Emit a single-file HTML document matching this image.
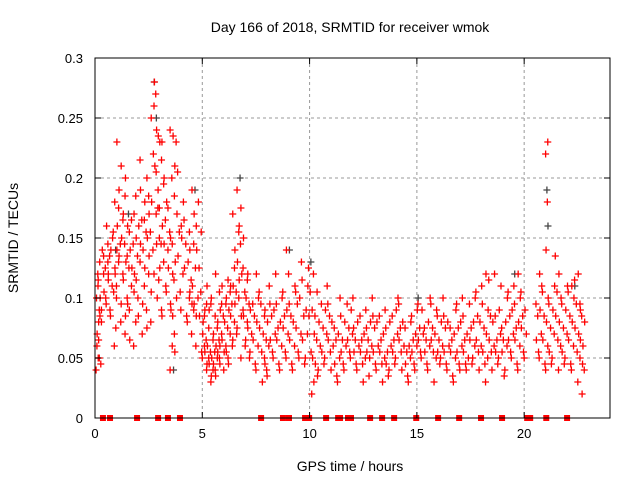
<!DOCTYPE html>
<html><head><meta charset="utf-8"><style>
body{margin:0;background:#fff}
svg{display:block;font-family:"Liberation Sans",sans-serif}
</style></head><body>
<svg id="chart" width="640" height="480">
<text x="350" y="32" text-anchor="middle" font-size="14">Day 166 of 2018, SRMTID for receiver wmok</text>
<text transform="translate(18,238) rotate(-90)" text-anchor="middle" font-size="14">SRMTID / TECUs</text>
<text x="350" y="471" text-anchor="middle" font-size="14">GPS time / hours</text>
<g id="grid"></g><g id="gray"></g><g id="red"></g><g id="sq"></g>
<rect x="95" y="58" width="515" height="360" fill="none" stroke="#000" stroke-width="1"/>
<g id="ticks"></g>
</svg>
<script>
const xTicks=[0,5,10,15,20];
const yTicks=[0,0.05,0.1,0.15,0.2,0.25,0.3];
const yTickLabels=["0","0.05","0.1","0.15","0.2","0.25","0.3"];
const groupTimes=[0.05,0.1,0.2,0.3,0.5,0.7,0.9,1.0,1.2,1.4,1.6,1.8,2.0,2.2,2.4,2.6,2.75,2.9,3.1,3.3,3.5,3.7,4.0,4.3,4.5,4.7,
5.0,5.2,5.4,5.6,5.8,6.0,6.2,6.4,6.6,6.8,7.0,7.2,7.5,7.8,8.0,8.3,8.6,8.9,9.2,9.5,9.8,10.1,10.4,10.7,11.0,11.3,11.6,11.9,12.2,12.5,12.8,13.1,13.4,13.7,14.0,14.3,14.6,14.9,15.2,15.5,15.8,16.1,16.4,16.7,17.0,17.3,17.6,17.9,18.2,18.5,18.8,19.1,19.4,19.7,20.0,20.7,21.0,21.3,21.6,21.9,22.2,22.5,22.7];
const groupValues=[[.04,.05,.06,.08,.10,.12],[.07,.09,.11,.13],[.05,.08,.10],[.09,.12,.14],[.10,.13,.16,.12],[.09,.11,.14,.15],[.06,.10,.12,.14,.18],[.11,.13,.16,.19,.23],[.08,.12,.15,.17,.21],[.07,.10,.13,.16,.20],[.09,.11,.14],[.06,.08,.12,.15,.17],[.10,.13,.16,.19],[.07,.11,.14,.18],[.09,.12,.15,.17,.20],[.08,.14,.18,.22,.25],[.12,.17,.21,.24,.28,.27,.26],[.10,.15,.19,.23],[.09,.13,.16,.20,.23],[.11,.14,.18],[.04,.06,.09,.12,.15,.20,.24],[.07,.10,.13,.17,.21,.23],[.09,.12,.15,.18,.16],[.08,.10,.13,.14],[.07,.09,.11,.17,.19],[.06,.10,.14,.18,.16],
[.05,.06,.08,.09,.07],[.04,.05,.06,.09,.11],[.03,.04,.05,.07,.10],[.04,.05,.06,.08,.12],[.05,.07,.09,.11,.06],[.04,.06,.08,.10],[.05,.07,.09,.11],[.06,.08,.11,.14,.17],[.07,.10,.13,.16,.19],[.05,.09,.12,.15],[.06,.08,.10,.12],[.05,.07,.09],[.04,.06,.08,.10,.12],[.03,.05,.07,.09],[.04,.06,.08,.11],[.05,.07,.09,.12],[.04,.06,.08,.10],[.05,.07,.09,.12,.14],[.04,.06,.08,.11],[.05,.07,.10,.13],[.05,.07,.09,.11],[.02,.03,.05,.07,.09,.12],[.04,.06,.08],[.05,.07,.09,.11],[.04,.06,.08],[.03,.05,.07,.10],[.04,.06,.08],[.05,.07,.09,.10],[.04,.06,.08],[.03,.05,.07,.09],[.05,.06,.08,.10],[.04,.06,.08],[.03,.05,.07,.09],[.04,.06,.08],[.05,.07,.09,.10],[.04,.06,.08],[.03,.05,.06,.08],[.04,.06,.07,.09],[.05,.07,.09],[.04,.06,.08,.10],[.03,.05,.07,.09],[.05,.06,.08,.10],[.04,.06,.08],[.03,.05,.07,.09],[.04,.06,.08,.10],[.04,.05,.07],[.05,.06,.08,.10],[.04,.06,.08,.11],[.03,.05,.07,.09,.12],[.04,.06,.08,.12],[.05,.07,.09,.11],[.04,.06,.08,.10],[.05,.07,.09,.11],[.04,.06,.08,.10,.12],[.05,.07,.09],[.05,.07,.09,.11,.12],[.04,.06,.08,.10,.14,.18,.22,.23],[.05,.07,.09,.11],[.04,.06,.08,.10,.12],[.05,.07,.09,.11],[.04,.06,.08,.10,.11],[.03,.05,.07,.09,.12],[.02,.04,.06,.08]];
const groupTimes2=[0.15,0.4,0.6,0.85,1.1,1.3,1.5,1.7,1.9,2.1,2.3,2.5,2.85,3.0,3.2,3.4,3.6,3.85,4.15,4.4,4.6,4.85,5.1,5.3,5.5,5.7,5.9,6.1,6.3,6.5,6.7,6.9,7.1,7.35,7.65,7.9,8.15,8.45,8.75,9.05,9.35,9.65,9.95,10.25,10.55,10.85,11.15,11.45,11.75,12.05,12.35,12.65,12.95,13.25,13.55,13.85,14.15,14.45,14.75,15.05,15.35,15.65,15.95,16.25,16.55,16.85,17.15,17.45,17.75,18.05,18.35,18.65,18.95,19.25,19.55,19.85,20.55,20.85,21.15,21.45,21.75,22.05,22.35,22.6];
const groupValues2=[[.045,.065,.085,.115],[.095,.105,.125,.135],[.085,.115,.135,.145],[.075,.105,.125,.155],[.095,.135,.145,.175],[.085,.115,.145,.165,.185],[.065,.095,.125,.135,.155],[.105,.125,.145,.165],[.085,.115,.135,.185],[.095,.145,.165,.215],[.075,.125,.155,.165],[.105,.135,.155,.185],[.115,.145,.175,.205,.235],[.085,.125,.145,.175,.215],[.105,.145,.165,.195],[.095,.125,.155,.175],[.055,.085,.115,.145,.185,.235],[.105,.135,.155,.205],[.085,.125,.145,.165],[.095,.105,.115,.155],[.085,.095,.125,.145],[.055,.085,.105,.125,.155],
[.045,.055,.065,.085,.095],[.035,.045,.055,.075,.095],[.035,.045,.055,.065,.085],[.045,.055,.065,.075,.105],[.055,.065,.085,.095],[.045,.055,.075,.095,.115],[.065,.085,.095,.105],[.075,.095,.105,.125],[.085,.115,.145,.155,.175],[.065,.085,.105,.125],[.055,.075,.095,.115],[.045,.065,.085,.095],[.055,.075,.095,.105],[.035,.045,.065,.085],[.055,.065,.085,.095],[.045,.065,.075,.095],[.055,.075,.085,.105],[.045,.065,.085,.095],[.055,.075,.095,.105],[.045,.065,.085,.115],[.055,.085,.105,.125],[.035,.045,.065,.085,.105],[.045,.055,.075,.095],[.055,.065,.085,.095],[.035,.045,.065,.075],[.045,.055,.065,.085],[.055,.065,.075,.095],[.045,.055,.065,.075],[.045,.055,.065,.085],[.035,.055,.065,.075],[.045,.055,.075,.085],[.045,.055,.065,.085],[.035,.045,.055,.075],[.045,.055,.065,.085],[.055,.065,.075,.095],[.035,.045,.055,.075],[.045,.055,.065,.085],[.055,.065,.075,.095],[.045,.055,.065,.075],[.055,.065,.075,.095],[.045,.055,.065,.085],[.045,.055,.075,.085],[.035,.055,.065,.075],[.045,.055,.075,.095],[.045,.055,.065,.085],[.045,.065,.075,.095],[.055,.065,.085,.105],[.045,.055,.075,.095],[.055,.065,.085,.115],[.045,.055,.065,.085],[.035,.055,.065,.075],[.055,.065,.085,.105],[.045,.065,.075,.095],[.055,.075,.085,.105],[.055,.065,.085,.095],[.045,.065,.085,.105],[.045,.055,.075,.095],[.065,.085,.105,.135],[.045,.055,.075,.095],[.045,.065,.085,.105],[.055,.075,.095,.115],[.045,.065,.085,.095]];
const grayTimes=[0.9,1.5,2.7,2.8,3.6,4.6,6.7,9.0,10.0,15.0,19.5,21.0,21.05,22.3];
const grayValues=[0.14,0.17,0.28,0.25,0.04,0.19,0.20,0.14,0.13,0.10,0.12,0.19,0.16,0.11];
const gapTimes=[0.37,0.7,1.96,2.94,3.4,3.96,7.74,8.76,9.04,9.79,9.98,10.77,11.33,11.42,11.79,11.93,12.82,13.38,13.94,14.97,15.99,16.97,17.99,18.97,20.14,20.28,21.03,22.0];
const JIT=[0,0.1,0.04,0.12,0.02,0.08];
const NS='http://www.w3.org/2000/svg';
const X=h=>95+h*(515/24), Y=v=>418-v*1200;
function mk(t,a,p){const e=document.createElementNS(NS,t);for(const k in a)e.setAttribute(k,a[k]);p.appendChild(e);return e;}
const grid=document.getElementById('grid'),ticks=document.getElementById('ticks');
xTicks.forEach((t,i)=>{const x=X(t);
 if(t>0){const g=mk('line',{x1:x,x2:x,y1:58,y2:418,stroke:'#999','stroke-dasharray':'3,3'},grid);
 
 }
 mk('line',{x1:x,x2:x,y1:418,y2:412,stroke:'#000'},ticks);mk('line',{x1:x,x2:x,y1:58,y2:64,stroke:'#000'},ticks);
 const l=mk('text',{x:x,y:438,'text-anchor':'middle','font-size':13},ticks);l.textContent=t;
 
 });
yTicks.forEach((t,i)=>{const y=Y(t);
 if(t>0&&t<0.3){const g=mk('line',{x1:95,x2:610,y1:y,y2:y,stroke:'#999','stroke-dasharray':'3,3'},grid);
 
 }
 mk('line',{x1:95,x2:101,y1:y,y2:y,stroke:'#000'},ticks);mk('line',{x1:604,x2:610,y1:y,y2:y,stroke:'#000'},ticks);
 const l=mk('text',{x:83,y:y+5,'text-anchor':'end','font-size':13},ticks);l.textContent=yTickLabels[i];
 
 });
function plus(h,v,c,p){const x=X(h),y=Y(v);
 const e=mk('path',{d:`M${x-3.5},${y}H${x+3.5}M${x},${y-3.5}V${y+3.5}`,stroke:c,'stroke-width':1.3,fill:'none'},p);return e;}
const gg=document.getElementById('gray');
grayTimes.forEach((h,i)=>{const e=plus(h+0.06,grayValues[i],'#444',gg);
 
 });
const rg=document.getElementById('red');
groupTimes.forEach((h,i)=>{groupValues[i].forEach((v,j)=>{const e=plus(h+JIT[j%6],v,'#f00',rg);
 
 });});
groupTimes2.forEach((h,i)=>{groupValues2[i].forEach((v,j)=>{const e=plus(h+JIT[(j+3)%6],v,'#f00',rg);
 
 });});
const sg=document.getElementById('sq');
gapTimes.forEach(h=>{const e=mk('rect',{x:X(h)-3,y:415,width:6,height:6,fill:'#f00'},sg);
 
 });
</script>
</body></html>
